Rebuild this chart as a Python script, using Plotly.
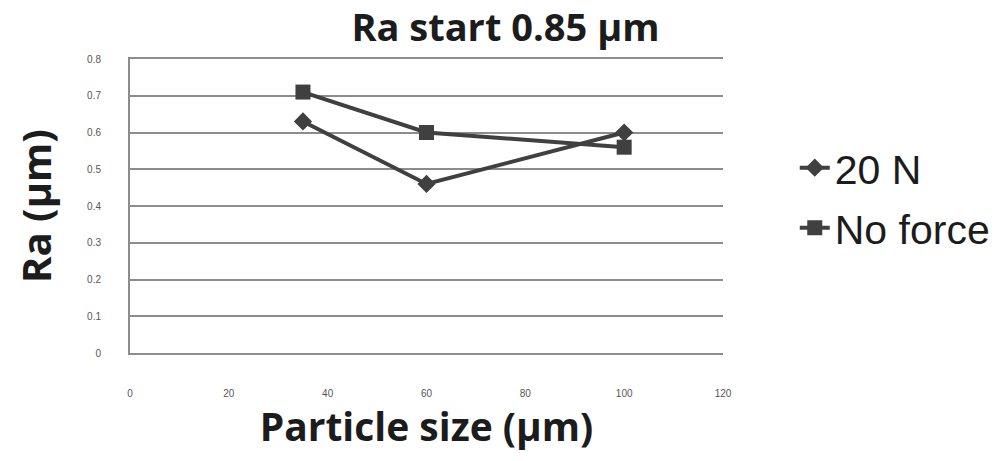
import plotly.graph_objects as go

particle_size = [35, 60, 100]
ra_20n = [0.63, 0.46, 0.60]
ra_noforce = [0.71, 0.60, 0.56]
series_names = ["20 N", "No force"]
x_ticks = [0, 20, 40, 60, 80, 100, 120]
y_ticks = [0, 0.1, 0.2, 0.3, 0.4, 0.5, 0.6, 0.7, 0.8]

line_col = "#404040"
grid_col = "#8c8c8c"
text_col = "#1c1c1c"
bold_font = "Open Sans"

fig = go.Figure()
fig.add_trace(go.Scatter(
    x=particle_size, y=ra_20n, name=series_names[0], mode="lines+markers",
    line=dict(color=line_col, width=4),
    marker=dict(symbol="diamond", size=14, color=line_col),
    legend="legend",
))
fig.add_trace(go.Scatter(
    x=particle_size, y=ra_noforce, name=series_names[1], mode="lines+markers",
    line=dict(color=line_col, width=4),
    marker=dict(symbol="square", size=15, color=line_col),
    legend="legend2",
))

legend_font = dict(family="Liberation Sans, Arial", size=41, color=text_col)
fig.update_layout(
    width=1006, height=461,
    paper_bgcolor="white", plot_bgcolor="white",
    margin=dict(l=122, r=291, t=51, b=116),
    title=dict(text="<b>Ra start 0.85 μm</b>", x=0.4945, xanchor="center",
               y=0.958, yanchor="middle",
               font=dict(family=bold_font, size=38, color=text_col)),
    legend=dict(x=1.121, y=0.629, xanchor="left", yanchor="middle",
                font=legend_font, itemwidth=30, bgcolor="rgba(0,0,0,0)"),
    legend2=dict(x=1.121, y=0.425, xanchor="left", yanchor="middle",
                 font=legend_font, itemwidth=30, bgcolor="rgba(0,0,0,0)"),
    showlegend=True,
)
fig.update_xaxes(
    range=[0, 120], tickvals=x_ticks, ticktext=[str(v) for v in x_ticks],
    showgrid=False, zeroline=False,
    showline=True, linecolor=grid_col, linewidth=2, mirror=True,
    ticks="", ticklabelstandoff=30,
    tickfont=dict(family="Liberation Sans, Arial", size=10, color="#555555"),
    title=dict(text="<b>Particle size (μm)</b>", standoff=16,
               font=dict(family=bold_font, size=39, color=text_col)),
)
fig.update_yaxes(
    range=[0, 0.8], tickvals=y_ticks, ticktext=[("%g" % v) for v in y_ticks],
    showgrid=True, gridcolor=grid_col, gridwidth=1.5, zeroline=False,
    showline=True, linecolor=grid_col, linewidth=2, mirror=False,
    ticks="", ticklabelstandoff=25,
    tickfont=dict(family="Liberation Sans, Arial", size=10, color="#555555"),
    title=dict(text="<b>Ra (μm)</b>", standoff=28,
               font=dict(family=bold_font, size=40, color=text_col)),
)

fig.write_html("out.html")
